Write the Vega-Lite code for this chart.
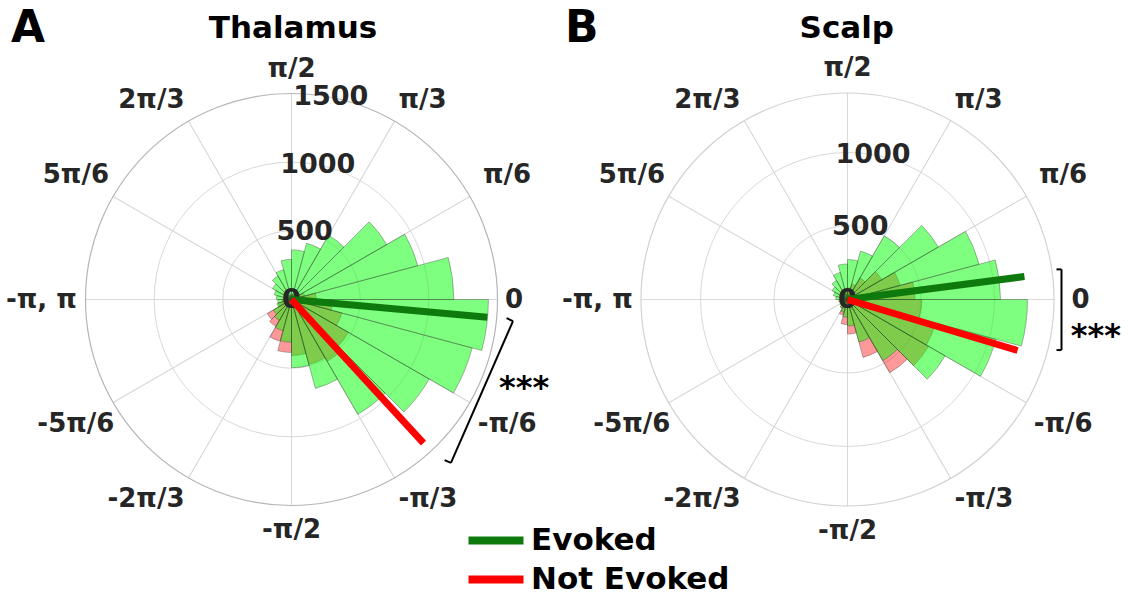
{
  "$schema": "https://vega.github.io/schema/vega-lite/v6.json",
  "padding": {"left": 0, "top": 6, "right": 0, "bottom": 0},
  "autosize": {"type": "pad"},
  "bounds": "flush",
  "spacing": 0,
  "config": {
    "view": {"stroke": null},
    "font": "DejaVu Sans",
    "text": {"font": "DejaVu Sans"}
  },
  "datasets": {
    "bins": [
      {"region": "Thalamus", "start": -180, "end": -165, "evoked": 100, "notEvoked": 70},
      {"region": "Thalamus", "start": -165, "end": -150, "evoked": 110, "notEvoked": 100},
      {"region": "Thalamus", "start": -150, "end": -135, "evoked": 153, "notEvoked": 204},
      {"region": "Thalamus", "start": -135, "end": -120, "evoked": 175, "notEvoked": 226},
      {"region": "Thalamus", "start": -120, "end": -105, "evoked": 235, "notEvoked": 315},
      {"region": "Thalamus", "start": -105, "end": -90, "evoked": 311, "notEvoked": 386},
      {"region": "Thalamus", "start": -90, "end": -75, "evoked": 497, "notEvoked": 408},
      {"region": "Thalamus", "start": -75, "end": -60, "evoked": 670, "notEvoked": 490},
      {"region": "Thalamus", "start": -60, "end": -45, "evoked": 966, "notEvoked": 520},
      {"region": "Thalamus", "start": -45, "end": -30, "evoked": 1158, "notEvoked": 480},
      {"region": "Thalamus", "start": -30, "end": -15, "evoked": 1362, "notEvoked": 380},
      {"region": "Thalamus", "start": -15, "end": 0, "evoked": 1434, "notEvoked": 300},
      {"region": "Thalamus", "start": 0, "end": 15, "evoked": 1182, "notEvoked": 180},
      {"region": "Thalamus", "start": 15, "end": 30, "evoked": 952, "notEvoked": 100},
      {"region": "Thalamus", "start": 30, "end": 45, "evoked": 800, "notEvoked": 70},
      {"region": "Thalamus", "start": 45, "end": 60, "evoked": 540, "notEvoked": 50},
      {"region": "Thalamus", "start": 60, "end": 75, "evoked": 424, "notEvoked": 40},
      {"region": "Thalamus", "start": 75, "end": 90, "evoked": 362, "notEvoked": 35},
      {"region": "Thalamus", "start": 90, "end": 105, "evoked": 292, "notEvoked": 30},
      {"region": "Thalamus", "start": 105, "end": 120, "evoked": 225, "notEvoked": 30},
      {"region": "Thalamus", "start": 120, "end": 135, "evoked": 197, "notEvoked": 35},
      {"region": "Thalamus", "start": 135, "end": 150, "evoked": 160, "notEvoked": 40},
      {"region": "Thalamus", "start": 150, "end": 165, "evoked": 130, "notEvoked": 50},
      {"region": "Thalamus", "start": 165, "end": 180, "evoked": 110, "notEvoked": 60},
      {"region": "Scalp", "start": -180, "end": -165, "evoked": 60, "notEvoked": 35},
      {"region": "Scalp", "start": -165, "end": -150, "evoked": 55, "notEvoked": 40},
      {"region": "Scalp", "start": -150, "end": -135, "evoked": 60, "notEvoked": 50},
      {"region": "Scalp", "start": -135, "end": -120, "evoked": 70, "notEvoked": 70},
      {"region": "Scalp", "start": -120, "end": -105, "evoked": 90, "notEvoked": 110},
      {"region": "Scalp", "start": -105, "end": -90, "evoked": 120, "notEvoked": 170},
      {"region": "Scalp", "start": -90, "end": -75, "evoked": 180, "notEvoked": 235},
      {"region": "Scalp", "start": -75, "end": -60, "evoked": 300, "notEvoked": 408},
      {"region": "Scalp", "start": -60, "end": -45, "evoked": 480, "notEvoked": 575},
      {"region": "Scalp", "start": -45, "end": -30, "evoked": 767, "notEvoked": 637},
      {"region": "Scalp", "start": -30, "end": -15, "evoked": 1045, "notEvoked": 620},
      {"region": "Scalp", "start": -15, "end": 0, "evoked": 1225, "notEvoked": 506},
      {"region": "Scalp", "start": 0, "end": 15, "evoked": 1041, "notEvoked": 460},
      {"region": "Scalp", "start": 15, "end": 30, "evoked": 927, "notEvoked": 370},
      {"region": "Scalp", "start": 30, "end": 45, "evoked": 713, "notEvoked": 270},
      {"region": "Scalp", "start": 45, "end": 60, "evoked": 500, "notEvoked": 170},
      {"region": "Scalp", "start": 60, "end": 75, "evoked": 341, "notEvoked": 110},
      {"region": "Scalp", "start": 75, "end": 90, "evoked": 272, "notEvoked": 80},
      {"region": "Scalp", "start": 90, "end": 105, "evoked": 242, "notEvoked": 60},
      {"region": "Scalp", "start": 105, "end": 120, "evoked": 191, "notEvoked": 50},
      {"region": "Scalp", "start": 120, "end": 135, "evoked": 150, "notEvoked": 40},
      {"region": "Scalp", "start": 135, "end": 150, "evoked": 120, "notEvoked": 35},
      {"region": "Scalp", "start": 150, "end": 165, "evoked": 100, "notEvoked": 30},
      {"region": "Scalp", "start": 165, "end": 180, "evoked": 80, "notEvoked": 30}
    ],
    "means": [
      {"region": "Thalamus", "group": "Evoked", "angle": -5.2, "length": 1432},
      {"region": "Thalamus", "group": "Not Evoked", "angle": -47.4, "length": 1420},
      {"region": "Scalp", "group": "Evoked", "angle": 7.4, "length": 1214},
      {"region": "Scalp", "group": "Not Evoked", "angle": -16.7, "length": 1208}
    ],
    "spokes": [
      {"angle": -150}, {"angle": -120}, {"angle": -90}, {"angle": -60},
      {"angle": -30}, {"angle": 0}, {"angle": 30}, {"angle": 60},
      {"angle": 90}, {"angle": 120}, {"angle": 150}, {"angle": 180}
    ],
    "angleLabels": [
      {"angle": 0, "label": "0"},
      {"angle": 30, "label": "π/6"},
      {"angle": 60, "label": "π/3"},
      {"angle": 90, "label": "π/2"},
      {"angle": 120, "label": "2π/3"},
      {"angle": 150, "label": "5π/6"},
      {"angle": 180, "label": "-π, π"},
      {"angle": -150, "label": "-5π/6"},
      {"angle": -120, "label": "-2π/3"},
      {"angle": -90, "label": "-π/2"},
      {"angle": -60, "label": "-π/3"},
      {"angle": -30, "label": "-π/6"}
    ],
    "rings": [
      {"region": "Thalamus", "r": 0},
      {"region": "Thalamus", "r": 500},
      {"region": "Thalamus", "r": 1000},
      {"region": "Thalamus", "r": 1500},
      {"region": "Scalp", "r": 0},
      {"region": "Scalp", "r": 500},
      {"region": "Scalp", "r": 1000}
    ],
    "brackets": [
      {"region": "Thalamus", "x1": 1613, "y1": -157, "x2": 1161, "y2": -1190},
      {"region": "Thalamus", "x1": 1613, "y1": -157, "x2": 1566, "y2": -136},
      {"region": "Thalamus", "x1": 1161, "y1": -1190, "x2": 1115, "y2": -1170},
      {"region": "Scalp", "x1": 1456, "y1": 205, "x2": 1456, "y2": -344},
      {"region": "Scalp", "x1": 1456, "y1": 205, "x2": 1422, "y2": 205},
      {"region": "Scalp", "x1": 1456, "y1": -344, "x2": 1422, "y2": -344}
    ],
    "panels": [
      {"region": "Thalamus", "letter": "A", "sig": "***"},
      {"region": "Scalp", "letter": "B", "sig": "***"}
    ]
  },
  "resolve": {
    "scale": {"theta": "independent", "radius": "independent", "x": "independent", "y": "independent", "stroke": "independent"},
    "legend": {"stroke": "independent"}
  },
  "hconcat": [
    {
      "width": 583,
      "height": 587,
      "layer": [
        {
          "data": {"name": "spokes"},
          "mark": {"type": "arc", "filled": false, "stroke": "#d9d9d9", "strokeWidth": 1},
          "encoding": {
            "theta": {"field": "angle", "type": "quantitative", "stack": null, "scale": {"type": "linear", "domain": [-180, 180], "range": [4.71238898038469, -1.5707963267948966], "zero": false, "nice": false}},
            "theta2": {"field": "angle"},
            "radius": {"datum": 1500, "type": "quantitative", "scale": {"type": "linear", "domain": [0, 1500], "range": [0, 206], "zero": true, "nice": false}}
          }
        },
        {
          "data": {"name": "rings"},
          "transform": [{"filter": "datum.region === 'Thalamus' && datum.r > 0 && datum.r < 1500"}],
          "mark": {"type": "arc", "filled": false, "stroke": "#d9d9d9", "strokeWidth": 1},
          "encoding": {
            "theta": {"datum": -180, "type": "quantitative"},
            "theta2": {"datum": 180},
            "radius": {"field": "r", "type": "quantitative", "stack": null}
          }
        },
        {
          "data": {"name": "panels"},
          "transform": [{"filter": "datum.region === 'Thalamus'"}],
          "mark": {"type": "arc", "filled": false, "stroke": "#b5b5b5", "strokeWidth": 1.2},
          "encoding": {
            "theta": {"datum": -180, "type": "quantitative"},
            "theta2": {"datum": 180},
            "radius": {"datum": 1500, "type": "quantitative"}
          }
        },
        {
          "data": {"name": "bins"},
          "transform": [{"filter": "datum.region === 'Thalamus'"}],
          "mark": {"type": "arc", "fill": "#ff0000", "fillOpacity": 0.4, "stroke": "#333333", "strokeWidth": 0.6, "strokeOpacity": 0.6},
          "encoding": {
            "theta": {"field": "start", "type": "quantitative", "stack": null},
            "theta2": {"field": "end"},
            "radius": {"field": "notEvoked", "type": "quantitative", "stack": null}
          }
        },
        {
          "data": {"name": "bins"},
          "transform": [{"filter": "datum.region === 'Thalamus'"}],
          "mark": {"type": "arc", "fill": "#00ff00", "fillOpacity": 0.5, "stroke": "#333333", "strokeWidth": 0.6, "strokeOpacity": 0.6},
          "encoding": {
            "theta": {"field": "start", "type": "quantitative", "stack": null},
            "theta2": {"field": "end"},
            "radius": {"field": "evoked", "type": "quantitative", "stack": null}
          }
        },
        {
          "data": {"name": "rings"},
          "transform": [{"filter": "datum.region === 'Thalamus'"}],
          "mark": {"type": "text", "fontSize": 27, "fontWeight": "bold", "fill": "#262626", "align": "center", "baseline": "middle"},
          "encoding": {
            "theta": {"datum": 79, "type": "quantitative"},
            "radius": {"field": "r", "type": "quantitative", "stack": null},
            "text": {"field": "r", "type": "quantitative", "format": "d"}
          }
        },
        {
          "data": {"name": "angleLabels"},
          "transform": [{"filter": "abs(datum.angle) == 90"}],
          "mark": {"type": "text", "fontSize": 26, "fontWeight": "bold", "fill": "#262626", "align": "center", "baseline": "middle"},
          "encoding": {
            "theta": {"field": "angle", "type": "quantitative", "stack": null},
            "radius": {"datum": 1682, "type": "quantitative"},
            "text": {"field": "label", "type": "nominal"}
          }
        },
        {
          "data": {"name": "angleLabels"},
          "transform": [{"filter": "abs(datum.angle) == 30 || abs(datum.angle) == 150"}],
          "mark": {"type": "text", "fontSize": 26, "fontWeight": "bold", "fill": "#262626", "align": "center", "baseline": "middle"},
          "encoding": {
            "theta": {"field": "angle", "type": "quantitative", "stack": null},
            "radius": {"datum": 1813, "type": "quantitative"},
            "text": {"field": "label", "type": "nominal"}
          }
        },
        {
          "data": {"name": "angleLabels"},
          "transform": [{"filter": "abs(datum.angle) == 60"}],
          "mark": {"type": "text", "fontSize": 26, "fontWeight": "bold", "fill": "#262626", "align": "left", "baseline": "middle", "dx": -8},
          "encoding": {
            "theta": {"field": "angle", "type": "quantitative", "stack": null},
            "radius": {"datum": 1675, "type": "quantitative"},
            "text": {"field": "label", "type": "nominal"}
          }
        },
        {
          "data": {"name": "angleLabels"},
          "transform": [{"filter": "abs(datum.angle) == 120"}],
          "mark": {"type": "text", "fontSize": 26, "fontWeight": "bold", "fill": "#262626", "align": "right", "baseline": "middle", "dx": 8},
          "encoding": {
            "theta": {"field": "angle", "type": "quantitative", "stack": null},
            "radius": {"datum": 1675, "type": "quantitative"},
            "text": {"field": "label", "type": "nominal"}
          }
        },
        {
          "data": {"name": "angleLabels"},
          "transform": [{"filter": "datum.angle == 0"}],
          "mark": {"type": "text", "fontSize": 26, "fontWeight": "bold", "fill": "#262626", "align": "left", "baseline": "middle"},
          "encoding": {
            "theta": {"field": "angle", "type": "quantitative", "stack": null},
            "radius": {"datum": 1555, "type": "quantitative"},
            "text": {"field": "label", "type": "nominal"}
          }
        },
        {
          "data": {"name": "angleLabels"},
          "transform": [{"filter": "datum.angle == 180"}],
          "mark": {"type": "text", "fontSize": 26, "fontWeight": "bold", "fill": "#262626", "align": "right", "baseline": "middle"},
          "encoding": {
            "theta": {"field": "angle", "type": "quantitative", "stack": null},
            "radius": {"datum": 1563, "type": "quantitative"},
            "text": {"field": "label", "type": "nominal"}
          }
        },
        {
          "data": {"name": "means"},
          "transform": [{"filter": "datum.region === 'Thalamus'"}],
          "mark": {"type": "arc", "filled": false, "strokeWidth": 7, "strokeJoin": "miter"},
          "encoding": {
            "theta": {"field": "angle", "type": "quantitative", "stack": null},
            "theta2": {"field": "angle"},
            "radius": {"field": "length", "type": "quantitative", "stack": null},
            "stroke": {
              "field": "group", "type": "nominal",
              "scale": {"domain": ["Evoked", "Not Evoked"], "range": ["#0e7a0e", "#ff0000"]},
              "legend": {
                "orient": "none", "legendX": 480.5, "legendY": 519, "title": null, "padding": 0,
                "symbolType": "M-2.5,0H2.5", "symbolSize": 484, "symbolStrokeWidth": 8,
                "labelFontSize": 31, "labelFont": "DejaVu Sans", "labelFontWeight": "bold",
                "labelColor": "black", "labelOffset": 19.5, "labelLimit": 0, "rowPadding": 6
              }
            }
          }
        },
        {
          "data": {"name": "brackets"},
          "transform": [{"filter": "datum.region === 'Thalamus'"}],
          "mark": {"type": "rule", "stroke": "black", "strokeWidth": 2},
          "encoding": {
            "x": {"field": "x1", "type": "quantitative", "axis": null, "scale": {"domain": [-2122.6, 2122.6], "zero": false, "nice": false}},
            "y": {"field": "y1", "type": "quantitative", "axis": null, "scale": {"domain": [-2137.1, 2137.1], "zero": false, "nice": false}},
            "x2": {"field": "x2"},
            "y2": {"field": "y2"}
          }
        },
        {
          "data": {"name": "panels"},
          "transform": [{"filter": "datum.region === 'Thalamus'"}],
          "mark": {"type": "text", "fontSize": 32, "fontWeight": "bold", "fill": "black", "align": "center", "baseline": "alphabetic"},
          "encoding": {
            "theta": {"datum": -23.06, "type": "quantitative"},
            "radius": {"datum": 1840, "type": "quantitative"},
            "text": {"field": "sig", "type": "nominal"}
          }
        },
        {
          "data": {"name": "panels"},
          "transform": [{"filter": "datum.region === 'Thalamus'"}],
          "mark": {"type": "text", "fontSize": 44, "fontWeight": "bold", "fill": "black", "align": "center", "baseline": "middle"},
          "encoding": {
            "theta": {"datum": 134.25, "type": "quantitative"},
            "radius": {"datum": 2750, "type": "quantitative"},
            "text": {"field": "letter", "type": "nominal"}
          }
        },
        {
          "data": {"name": "panels"},
          "transform": [{"filter": "datum.region === 'Thalamus'"}],
          "mark": {"type": "text", "fontSize": 31, "fontWeight": "bold", "fill": "black", "align": "center", "baseline": "alphabetic"},
          "encoding": {
            "theta": {"datum": 89.67, "type": "quantitative"},
            "radius": {"datum": 1904, "type": "quantitative"},
            "text": {"field": "region", "type": "nominal"}
          }
        }
      ]
    },
    {
      "width": 529,
      "height": 587,
      "layer": [
        {
          "data": {"name": "spokes"},
          "mark": {"type": "arc", "filled": false, "stroke": "#d9d9d9", "strokeWidth": 1},
          "encoding": {
            "theta": {"field": "angle", "type": "quantitative", "stack": null, "scale": {"type": "linear", "domain": [-180, 180], "range": [4.71238898038469, -1.5707963267948966], "zero": false, "nice": false}},
            "theta2": {"field": "angle"},
            "radius": {"datum": 1405, "type": "quantitative", "scale": {"type": "linear", "domain": [0, 1405], "range": [0, 206.5], "zero": true, "nice": false}}
          }
        },
        {
          "data": {"name": "rings"},
          "transform": [{"filter": "datum.region === 'Scalp' && datum.r > 0"}],
          "mark": {"type": "arc", "filled": false, "stroke": "#d9d9d9", "strokeWidth": 1},
          "encoding": {
            "theta": {"datum": -180, "type": "quantitative"},
            "theta2": {"datum": 180},
            "radius": {"field": "r", "type": "quantitative", "stack": null}
          }
        },
        {
          "data": {"name": "panels"},
          "transform": [{"filter": "datum.region === 'Scalp'"}],
          "mark": {"type": "arc", "filled": false, "stroke": "#d2d2d2", "strokeWidth": 1.2},
          "encoding": {
            "theta": {"datum": -180, "type": "quantitative"},
            "theta2": {"datum": 180},
            "radius": {"datum": 1405, "type": "quantitative"}
          }
        },
        {
          "data": {"name": "bins"},
          "transform": [{"filter": "datum.region === 'Scalp'"}],
          "mark": {"type": "arc", "fill": "#ff0000", "fillOpacity": 0.4, "stroke": "#333333", "strokeWidth": 0.6, "strokeOpacity": 0.6},
          "encoding": {
            "theta": {"field": "start", "type": "quantitative", "stack": null},
            "theta2": {"field": "end"},
            "radius": {"field": "notEvoked", "type": "quantitative", "stack": null}
          }
        },
        {
          "data": {"name": "bins"},
          "transform": [{"filter": "datum.region === 'Scalp'"}],
          "mark": {"type": "arc", "fill": "#00ff00", "fillOpacity": 0.5, "stroke": "#333333", "strokeWidth": 0.6, "strokeOpacity": 0.6},
          "encoding": {
            "theta": {"field": "start", "type": "quantitative", "stack": null},
            "theta2": {"field": "end"},
            "radius": {"field": "evoked", "type": "quantitative", "stack": null}
          }
        },
        {
          "data": {"name": "rings"},
          "transform": [{"filter": "datum.region === 'Scalp'"}],
          "mark": {"type": "text", "fontSize": 27, "fontWeight": "bold", "fill": "#262626", "align": "center", "baseline": "middle"},
          "encoding": {
            "theta": {"datum": 80, "type": "quantitative"},
            "radius": {"field": "r", "type": "quantitative", "stack": null},
            "text": {"field": "r", "type": "quantitative", "format": "d"}
          }
        },
        {
          "data": {"name": "angleLabels"},
          "transform": [{"filter": "abs(datum.angle) == 90"}],
          "mark": {"type": "text", "fontSize": 26, "fontWeight": "bold", "fill": "#262626", "align": "center", "baseline": "middle"},
          "encoding": {
            "theta": {"field": "angle", "type": "quantitative", "stack": null},
            "radius": {"datum": 1572, "type": "quantitative"},
            "text": {"field": "label", "type": "nominal"}
          }
        },
        {
          "data": {"name": "angleLabels"},
          "transform": [{"filter": "abs(datum.angle) == 30 || abs(datum.angle) == 150"}],
          "mark": {"type": "text", "fontSize": 26, "fontWeight": "bold", "fill": "#262626", "align": "center", "baseline": "middle"},
          "encoding": {
            "theta": {"field": "angle", "type": "quantitative", "stack": null},
            "radius": {"datum": 1694, "type": "quantitative"},
            "text": {"field": "label", "type": "nominal"}
          }
        },
        {
          "data": {"name": "angleLabels"},
          "transform": [{"filter": "abs(datum.angle) == 60"}],
          "mark": {"type": "text", "fontSize": 26, "fontWeight": "bold", "fill": "#262626", "align": "left", "baseline": "middle", "dx": -8},
          "encoding": {
            "theta": {"field": "angle", "type": "quantitative", "stack": null},
            "radius": {"datum": 1565, "type": "quantitative"},
            "text": {"field": "label", "type": "nominal"}
          }
        },
        {
          "data": {"name": "angleLabels"},
          "transform": [{"filter": "abs(datum.angle) == 120"}],
          "mark": {"type": "text", "fontSize": 26, "fontWeight": "bold", "fill": "#262626", "align": "right", "baseline": "middle", "dx": 8},
          "encoding": {
            "theta": {"field": "angle", "type": "quantitative", "stack": null},
            "radius": {"datum": 1565, "type": "quantitative"},
            "text": {"field": "label", "type": "nominal"}
          }
        },
        {
          "data": {"name": "angleLabels"},
          "transform": [{"filter": "datum.angle == 0"}],
          "mark": {"type": "text", "fontSize": 26, "fontWeight": "bold", "fill": "#262626", "align": "left", "baseline": "middle"},
          "encoding": {
            "theta": {"field": "angle", "type": "quantitative", "stack": null},
            "radius": {"datum": 1524, "type": "quantitative"},
            "text": {"field": "label", "type": "nominal"}
          }
        },
        {
          "data": {"name": "angleLabels"},
          "transform": [{"filter": "datum.angle == 180"}],
          "mark": {"type": "text", "fontSize": 26, "fontWeight": "bold", "fill": "#262626", "align": "right", "baseline": "middle"},
          "encoding": {
            "theta": {"field": "angle", "type": "quantitative", "stack": null},
            "radius": {"datum": 1461, "type": "quantitative"},
            "text": {"field": "label", "type": "nominal"}
          }
        },
        {
          "data": {"name": "means"},
          "transform": [{"filter": "datum.region === 'Scalp'"}],
          "mark": {"type": "arc", "filled": false, "strokeWidth": 7, "strokeJoin": "miter"},
          "encoding": {
            "theta": {"field": "angle", "type": "quantitative", "stack": null},
            "theta2": {"field": "angle"},
            "radius": {"field": "length", "type": "quantitative", "stack": null},
            "stroke": {
              "field": "group", "type": "nominal",
              "scale": {"domain": ["Evoked", "Not Evoked"], "range": ["#0e7a0e", "#ff0000"]},
              "legend": null
            }
          }
        },
        {
          "data": {"name": "brackets"},
          "transform": [{"filter": "datum.region === 'Scalp'"}],
          "mark": {"type": "rule", "stroke": "black", "strokeWidth": 2},
          "encoding": {
            "x": {"field": "x1", "type": "quantitative", "axis": null, "scale": {"domain": [-1799.6, 1799.6], "zero": false, "nice": false}},
            "y": {"field": "y1", "type": "quantitative", "axis": null, "scale": {"domain": [-1996.9, 1996.9], "zero": false, "nice": false}},
            "x2": {"field": "x2"},
            "y2": {"field": "y2"}
          }
        },
        {
          "data": {"name": "panels"},
          "transform": [{"filter": "datum.region === 'Scalp'"}],
          "mark": {"type": "text", "fontSize": 32, "fontWeight": "bold", "fill": "black", "align": "center", "baseline": "alphabetic"},
          "encoding": {
            "theta": {"datum": -10.6, "type": "quantitative"},
            "radius": {"datum": 1719, "type": "quantitative"},
            "text": {"field": "sig", "type": "nominal"}
          }
        },
        {
          "data": {"name": "panels"},
          "transform": [{"filter": "datum.region === 'Scalp'"}],
          "mark": {"type": "text", "fontSize": 44, "fontWeight": "bold", "fill": "black", "align": "center", "baseline": "middle"},
          "encoding": {
            "theta": {"datum": 134.49, "type": "quantitative"},
            "radius": {"datum": 2580, "type": "quantitative"},
            "text": {"field": "letter", "type": "nominal"}
          }
        },
        {
          "data": {"name": "panels"},
          "transform": [{"filter": "datum.region === 'Scalp'"}],
          "mark": {"type": "text", "fontSize": 31, "fontWeight": "bold", "fill": "black", "align": "center", "baseline": "alphabetic"},
          "encoding": {
            "theta": {"datum": 90.15, "type": "quantitative"},
            "radius": {"datum": 1779, "type": "quantitative"},
            "text": {"field": "region", "type": "nominal"}
          }
        }
      ]
    }
  ]
}
